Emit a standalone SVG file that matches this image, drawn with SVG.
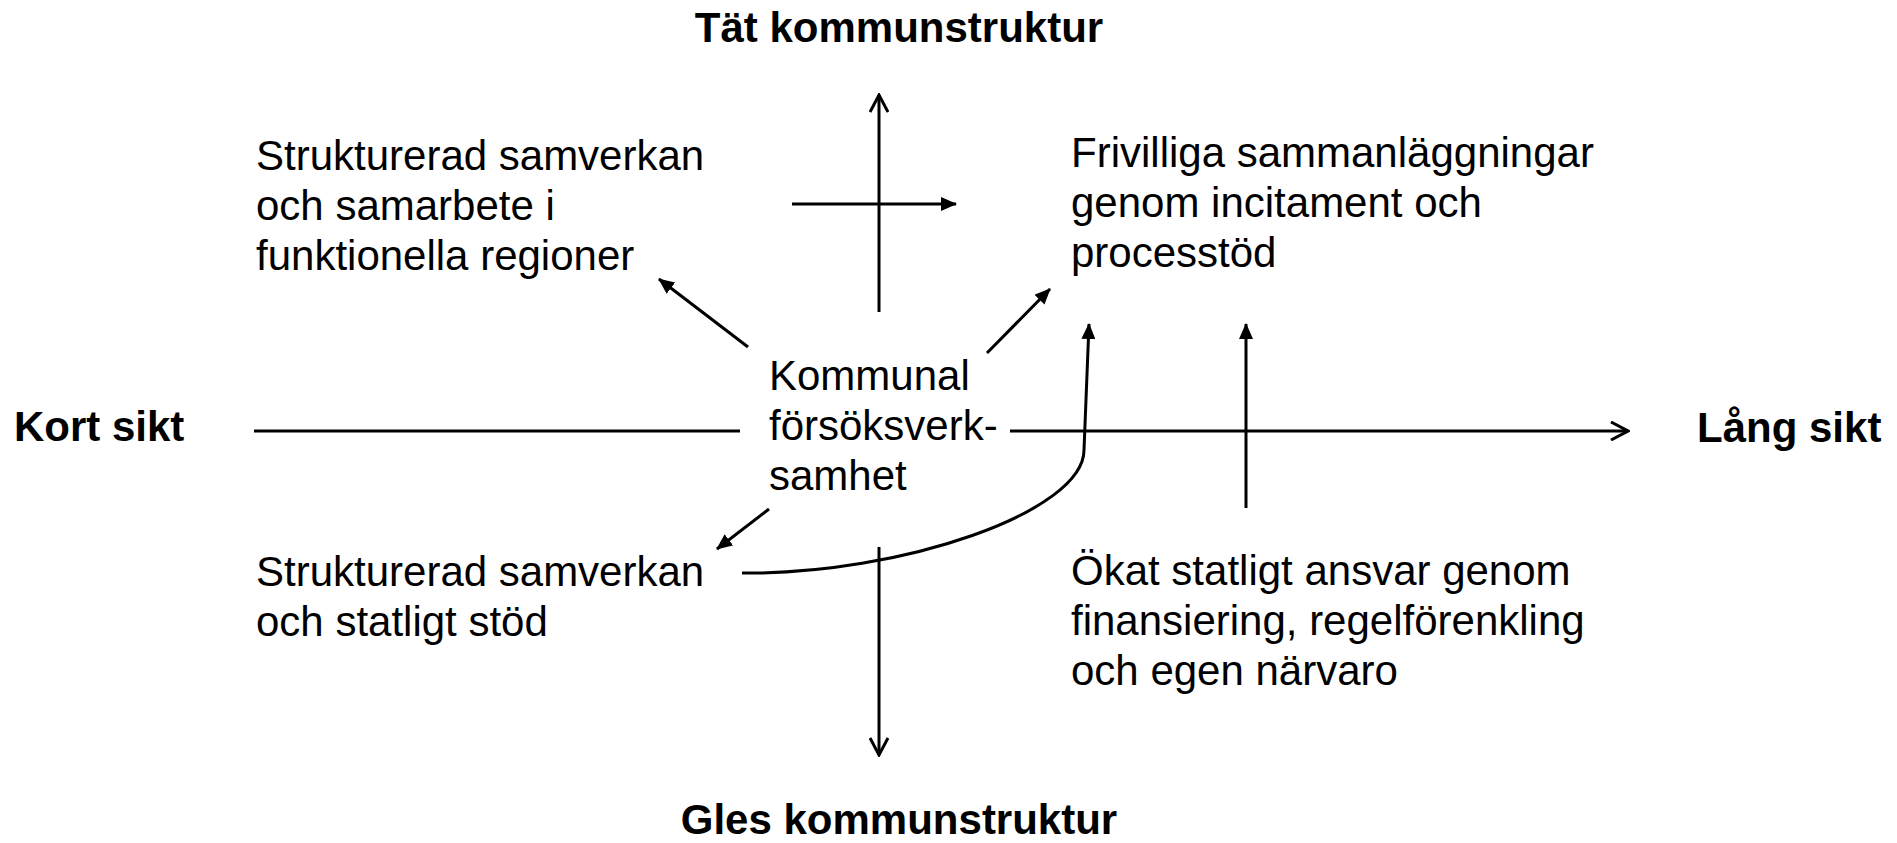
<svg xmlns="http://www.w3.org/2000/svg" width="1897" height="843" viewBox="0 0 1897 843">
<style>
.t{font-family:"Liberation Sans",Arial,sans-serif;font-size:42px;fill:#000}
.b{font-weight:bold}
.ln{stroke:#000;stroke-width:3;fill:none}
</style>
<defs>
<marker id="open" viewBox="0 0 20 20" refX="18" refY="10" markerWidth="20" markerHeight="20" markerUnits="userSpaceOnUse" orient="auto">
<path d="M1,1 L18,10 L1,19" fill="none" stroke="#000" stroke-width="3"/>
</marker>
<marker id="fill" viewBox="0 0 16 14" refX="15" refY="7" markerWidth="16" markerHeight="14" markerUnits="userSpaceOnUse" orient="auto">
<path d="M0,0 L16,7 L0,14 Z" fill="#000"/>
</marker>
</defs>
<rect width="1897" height="843" fill="#fff"/>
<g id="connectors">
<line class="ln" x1="879" y1="312" x2="879" y2="95" marker-end="url(#open)"/>
<line class="ln" x1="879" y1="547" x2="879" y2="755" marker-end="url(#open)"/>
<line class="ln" x1="254" y1="431" x2="740" y2="431"/>
<line class="ln" x1="1010" y1="431" x2="1628" y2="431" marker-end="url(#open)"/>
<line class="ln" x1="792" y1="204" x2="956" y2="204" marker-end="url(#fill)"/>
<line class="ln" x1="748" y1="347" x2="659" y2="279" marker-end="url(#fill)"/>
<line class="ln" x1="987" y1="353" x2="1050" y2="289" marker-end="url(#fill)"/>
<line class="ln" x1="769" y1="509" x2="717" y2="549" marker-end="url(#fill)"/>
<line class="ln" x1="1246" y1="508" x2="1246" y2="324" marker-end="url(#fill)"/>
<path class="ln" d="M742,573 C900,575 1084,512 1084,450 L1089,324" marker-end="url(#fill)"/>
</g>
<g id="top-label"><text class="t b" x="899" y="42" text-anchor="middle">Tät kommunstruktur</text></g>
<g id="bottom-label"><text class="t b" x="899" y="834" text-anchor="middle">Gles kommunstruktur</text></g>
<g id="left-label"><text class="t b" x="14" y="441">Kort sikt</text></g>
<g id="right-label"><text class="t b" x="1697" y="442">Lång sikt</text></g>
<g id="center">
<text class="t" x="769" y="390">Kommunal</text>
<text class="t" x="769" y="440">försöksverk-</text>
<text class="t" x="769" y="490">samhet</text>
</g>
<g id="upper-left">
<text class="t" x="256" y="170">Strukturerad samverkan</text>
<text class="t" x="256" y="220">och samarbete i</text>
<text class="t" x="256" y="270">funktionella regioner</text>
</g>
<g id="upper-right">
<text class="t" x="1071" y="167">Frivilliga sammanläggningar</text>
<text class="t" x="1071" y="217">genom incitament och</text>
<text class="t" x="1071" y="267">processtöd</text>
</g>
<g id="lower-left">
<text class="t" x="256" y="586">Strukturerad samverkan</text>
<text class="t" x="256" y="636">och statligt stöd</text>
</g>
<g id="lower-right">
<text class="t" x="1071" y="585">Ökat statligt ansvar genom</text>
<text class="t" x="1071" y="635">finansiering, regelförenkling</text>
<text class="t" x="1071" y="685">och egen närvaro</text>
</g>
</svg>
